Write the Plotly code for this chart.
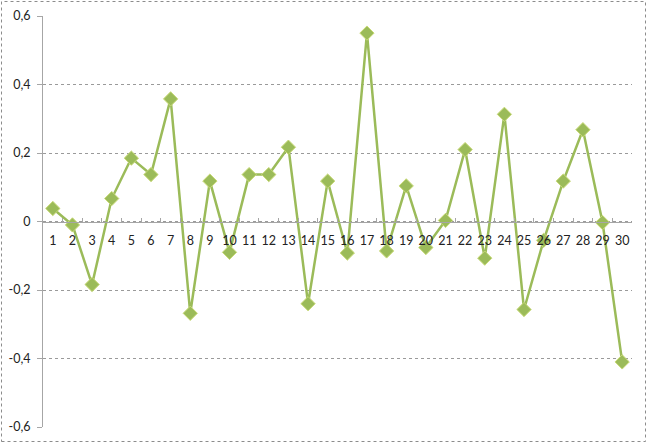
import plotly.graph_objects as go

categories = [str(i) for i in range(1, 31)]
values = [0.038, -0.01, -0.184, 0.067, 0.185, 0.137, 0.358, -0.268, 0.118, -0.09,
          0.137, 0.137, 0.217, -0.24, 0.118, -0.092, 0.55, -0.086, 0.104, -0.076,
          0.003, 0.21, -0.107, 0.313, -0.257, -0.055, 0.118, 0.268, -0.003, -0.41]
y_tickvals = [-0.6, -0.4, -0.2, 0, 0.2, 0.4, 0.6]
y_ticktext = ["-0,6", "-0,4", "-0,2", "0", "0,2", "0,4", "0,6"]

W, H = 647, 443
ML, MR, MT, MB = 43, 15, 16, 16
PW, PH = W - ML - MR, H - MT - MB

fig = go.Figure()
fig.add_trace(go.Scatter(
    x=categories, y=values, mode="lines+markers",
    line=dict(color="#9BBB59", width=2.5),
    marker=dict(symbol="diamond", size=11, color="#9BBB59",
                line=dict(color="#C9DA78", width=1)),
    cliponaxis=False,
))

fig.update_layout(
    width=W, height=H,
    margin=dict(l=ML, r=MR, t=MT, b=MB, pad=0, autoexpand=False),
    paper_bgcolor="white", plot_bgcolor="white",
    showlegend=False,
    font=dict(family="Lato, Open Sans, sans-serif", size=12.5, color="#222222"),
    xaxis=dict(
        type="category", anchor="free", position=0.5,
        range=[-0.5, len(categories) - 0.5],
        showline=True, linecolor="#A6A6A6", linewidth=1,
        ticks="inside", ticklen=4, tickcolor="#A6A6A6", tickson="boundaries",
        showgrid=False, zeroline=False, ticklabelstandoff=7, tickangle=0,
        automargin=False,
    ),
    yaxis=dict(
        range=[-0.6, 0.6], tickvals=y_tickvals, ticktext=y_ticktext,
        showline=True, linecolor="#A6A6A6", linewidth=1,
        ticks="outside", ticklen=5, tickcolor="#A6A6A6",
        showgrid=True, gridcolor="#9A9A9A", griddash="dot", gridwidth=1,
        zeroline=False, ticklabelstandoff=4, automargin=False,
    ),
    shapes=[dict(
        type="rect", xref="paper", yref="paper",
        x0=(1.5 - ML) / PW, x1=(W - 1.5 - ML) / PW,
        y0=-(H - 1.5 - MT - PH) / PH, y1=(H - MB - 1.5) / PH,
        line=dict(color="#8C8C8C", width=1, dash="dot"),
        fillcolor="rgba(0,0,0,0)", layer="below",
    )],
)

fig.write_html("out.html",
               config={"displayModeBar": False},
               post_script="document.body.style.margin='0';document.body.style.overflow='hidden';")
